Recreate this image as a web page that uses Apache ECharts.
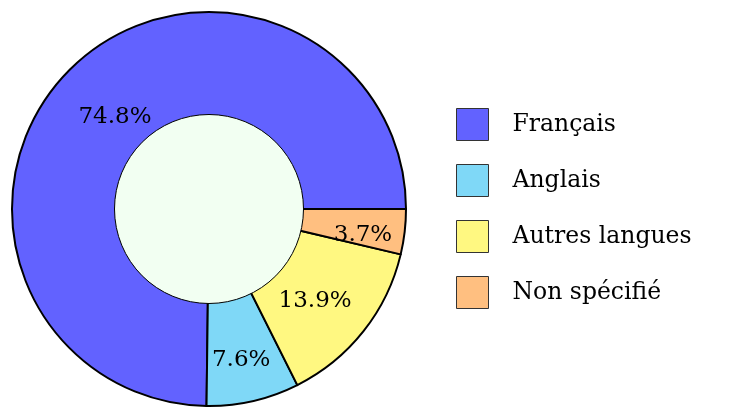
<!DOCTYPE html>
<html>
<head>
<meta charset="utf-8">
<script src="https://cdn.jsdelivr.net/npm/echarts@6/dist/echarts.min.js"></script>
<style>
  html, body { margin: 0; padding: 0; background: #fff; }
  #chart { width: 730px; height: 419px; }
</style>
</head>
<body>
<div id="chart"></div>
<script>
// langues parlées (%)
var langNames = ['Français', 'Anglais', 'Autres langues', 'Non spécifié'];
var langValues = [74.8, 7.6, 13.9, 3.7];
var langColors = ['#6262ff', '#7fd8f7', '#fff881', '#ffbf80'];

var myChart = echarts.init(document.getElementById('chart'), null, { renderer: 'canvas' });

// décalage des étiquettes (comme dans la figure d'origine)
var labelShift = [[10, 13], [-1, 7], [-10, 0], [7, 9]];

var pieData = langNames.map(function (n, i) {
    return {
        name: n,
        value: langValues[i],
        itemStyle: { color: langColors[i] },
        label: { offset: labelShift[i] }
    };
});

var option = {
    animation: false,
    legend: {
        orient: 'vertical',
        left: 451,
        top: 103,
        itemWidth: 32,
        itemHeight: 32,
        itemGap: 23,
        icon: 'rect',
        selectedMode: false,
        data: langNames,
        itemStyle: {
            borderColor: '#333',
            borderWidth: 1
        },
        textStyle: {
            fontFamily: 'DejaVu Serif',
            fontSize: 23.5,
            color: '#000',
            padding: [0, 0, 0, 19]
        }
    },
    series: [
        {
            type: 'pie',
            center: [209, 209],
            radius: [93, 197],
            startAngle: 0,
            clockwise: false,
            avoidLabelOverlap: false,
            silent: true,
            itemStyle: {
                borderColor: '#000',
                borderWidth: 2
            },
            label: {
                show: true,
                position: 'inside',
                formatter: '{c}%',
                fontFamily: 'DejaVu Serif',
                fontSize: 23,
                color: '#000'
            },
            labelLine: { show: false },
            data: pieData
        },
        {
            // disque central
            type: 'pie',
            center: [209, 209],
            radius: [0, 94.5],
            z: 3,
            silent: true,
            label: { show: false },
            labelLine: { show: false },
            itemStyle: {
                color: '#f2fff2',
                borderColor: '#000',
                borderWidth: 1
            },
            data: [{ value: 1, name: 'centre' }]
        }
    ]
};

myChart.setOption(option);
</script>
</body>
</html>
